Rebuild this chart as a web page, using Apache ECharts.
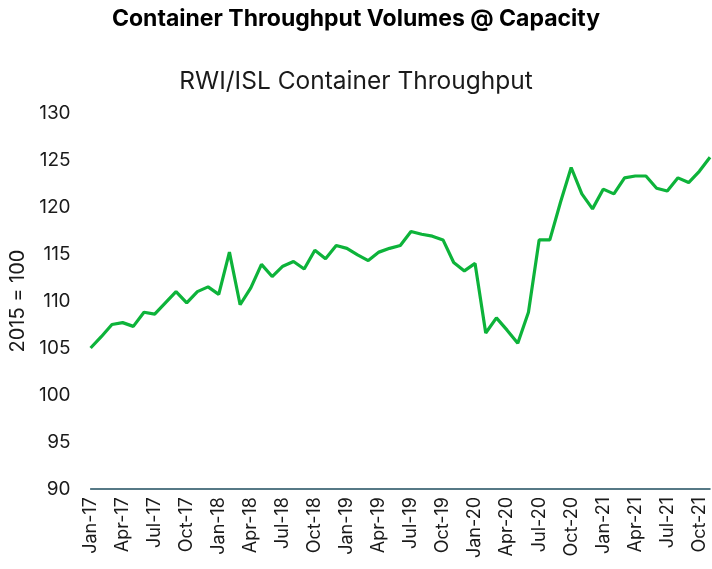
<!DOCTYPE html>
<html>
<head>
<meta charset="utf-8">
<script src="https://cdn.jsdelivr.net/npm/echarts@6/dist/echarts.min.js"></script>
<style>
html,body{margin:0;padding:0;background:#fff;}
#chart{width:712px;height:569px;}
</style>
</head>
<body>
<div id="chart"></div>
<script>
const months = ['Jan','Feb','Mar','Apr','May','Jun','Jul','Aug','Sep','Oct','Nov','Dec'];
const years = ['17','18','19','20','21'];
const categories = [];
years.forEach(y => months.forEach(m => categories.push(m + '-' + y)));
categories.length = 59; // Jan-17 .. Nov-21

const throughput = [
  105.0, 106.2, 107.5, 107.7, 107.3, 108.8, 108.6, 109.8, 111.0, 109.8, 111.0, 111.5,
  110.7, 115.2, 109.6, 111.4, 113.9, 112.6, 113.7, 114.2, 113.4, 115.4, 114.5, 115.9,
  115.6, 114.9, 114.3, 115.2, 115.6, 115.9, 117.4, 117.1, 116.9, 116.5, 114.1, 113.2,
  114.0, 106.6, 108.2, 106.9, 105.5, 108.8, 116.5, 116.5, 120.5, 124.2, 121.4, 119.8,
  121.9, 121.4, 123.1, 123.3, 123.3, 122.0, 121.7, 123.1, 122.6, 123.8, 125.3
];

const mainTitle = 'Container Throughput Volumes @ Capacity';
const subTitle = 'RWI/ISL Container Throughput';
const yAxisName = '2015 = 100';

const chart = echarts.init(document.getElementById('chart'), null, {renderer: 'canvas'});
chart.setOption({
  backgroundColor: '#ffffff',
  animation: false,
  title: [
    {
      text: mainTitle,
      left: 'center',
      top: 3,
      textStyle: {fontFamily: 'Inter', fontWeight: 'bold', fontSize: 23, color: '#000'}
    },
    {
      text: subTitle,
      left: 'center',
      top: 64,
      textStyle: {fontFamily: 'Inter', fontWeight: 'normal', fontSize: 24.5, color: '#1a1a1a'}
    }
  ],
  grid: {left: 87, right: 2, top: 113, bottom: 80},
  xAxis: {
    type: 'category',
    data: categories,
    boundaryGap: false,
    axisLine: {show: true, lineStyle: {color: '#1f4e5f', width: 1.5}},
    axisTick: {show: false},
    axisLabel: {
      interval: 2,
      rotate: 90,
      margin: 8,
      fontFamily: 'Inter',
      fontSize: 18,
      color: '#1a1a1a'
    },
    splitLine: {show: false}
  },
  yAxis: {
    type: 'value',
    min: 90,
    max: 130,
    interval: 5,
    name: yAxisName,
    nameLocation: 'middle',
    nameRotate: 90,
    nameGap: 62,
    nameTextStyle: {fontFamily: 'Inter', fontSize: 20, color: '#1a1a1a'},
    axisLine: {show: false},
    axisTick: {show: false},
    splitLine: {show: false},
    axisLabel: {
      margin: 20,
      fontFamily: 'Inter',
      fontSize: 19,
      color: '#1a1a1a'
    }
  },
  series: [{
    type: 'line',
    data: throughput,
    symbol: 'none',
    lineStyle: {color: '#0db33a', width: 3.2},
    itemStyle: {color: '#0db33a'}
  }]
});
</script>
</body>
</html>
